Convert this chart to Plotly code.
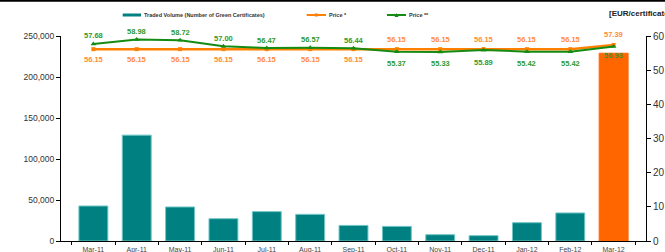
import plotly.graph_objects as go

months = ["Mar-11", "Apr-11", "May-11", "Jun-11", "Jul-11", "Aug-11", "Sep-11",
          "Oct-11", "Nov-11", "Dec-11", "Jan-12", "Feb-12", "Mar-12"]
volume = [42700, 129100, 41500, 27200, 35800, 32500, 19000,
          17800, 7700, 6500, 22300, 34200, 229000]
price1 = [56.15, 56.15, 56.15, 56.15, 56.15, 56.15, 56.15,
          56.15, 56.15, 56.15, 56.15, 56.15, 57.39]
price2 = [57.68, 58.98, 58.72, 57.00, 56.47, 56.57, 56.44,
          55.37, 55.33, 55.89, 55.42, 55.42, 56.93]
side1 = ["below"] * 7 + ["above"] * 6
side2 = ["above"] * 7 + ["below"] * 6

TEAL = "#008080"
ORANGE_BAR = "#FF6600"
ORANGE = "#FF8000"
ORANGE_TXT = "#FF8C3A"
GREEN = "#148C14"
GREEN_TXT = "#2E9A2E"
FONT = "Liberation Sans, Arial, sans-serif"

bar_colors = [TEAL] * (len(months) - 1) + [ORANGE_BAR]
bar_lines = ["#6FC6C6"] * (len(months) - 1) + [ORANGE_BAR]

fig = go.Figure()
fig.add_trace(go.Bar(
    x=months, y=volume, marker=dict(color=bar_colors, line=dict(color=bar_lines, width=1)),
    yaxis="y", showlegend=False, hoverinfo="skip"))
fig.add_trace(go.Scatter(
    x=months, y=price1, yaxis="y2", mode="lines+markers",
    line=dict(color=ORANGE, width=2.5),
    marker=dict(symbol="square", size=4, color=ORANGE),
    showlegend=False, hoverinfo="skip"))
fig.add_trace(go.Scatter(
    x=months, y=price2, yaxis="y2", mode="lines+markers",
    line=dict(color=GREEN, width=2),
    marker=dict(symbol="triangle-up", size=5, color=GREEN),
    showlegend=False, hoverinfo="skip"))

L, R, T, B = 61, 19, 36, 11
W, H = 665, 252
pw, ph = W - L - R, H - T - B

def px(x):
    return (x - L) / pw

def py(y):
    return (H - B - y) / ph

annotations = []
for m, v, s in zip(months, price1, side1):
    annotations.append(dict(
        x=m, y=v, xref="x", yref="y2", text=f"{v:.2f}", showarrow=False,
        yanchor="middle", yshift=10 if s == "above" else -10.5,
        font=dict(family=FONT, size=7.5, color=ORANGE_TXT, weight="bold")))
for i, (m, v, s) in enumerate(zip(months, price2, side2)):
    shift = 8 if s == "above" else (-9 if i == len(months) - 1 else -12)
    annotations.append(dict(
        x=m, y=v, xref="x", yref="y2", text=f"{v:.2f}", showarrow=False,
        yanchor="middle", yshift=shift,
        font=dict(family=FONT, size=7.5, color=GREEN_TXT, weight="bold")))

shapes = [
    dict(type="line", xref="paper", yref="paper", x0=px(0), x1=px(W), y0=py(0.8), y1=py(0.8),
         line=dict(color="black", width=2)),
    dict(type="rect", xref="paper", yref="paper", x0=px(122.7), x1=px(141), y0=py(16.5), y1=py(13.5),
         fillcolor=TEAL, line=dict(width=0)),
    dict(type="line", xref="paper", yref="paper", x0=px(306.7), x1=px(326), y0=py(15), y1=py(15),
         line=dict(color=ORANGE, width=2)),
    dict(type="rect", xref="paper", yref="paper", x0=px(314.8), x1=px(317.8), y0=py(16.5), y1=py(13.5),
         fillcolor=ORANGE, line=dict(width=0)),
    dict(type="line", xref="paper", yref="paper", x0=px(387), x1=px(406), y0=py(15), y1=py(15),
         line=dict(color=GREEN, width=2)),
    dict(type="path", xref="paper", yref="paper",
         path=f"M {px(394.5)},{py(17)} L {px(398.5)},{py(17)} L {px(396.5)},{py(13)} Z",
         fillcolor=GREEN, line=dict(width=0)),
]

annotations += [
    dict(xref="paper", yref="paper", x=px(142), y=py(15), xanchor="left", yanchor="middle",
         text="Traded Volume (Number of Green Certificates)", showarrow=False,
         font=dict(family=FONT, size=5.5, color="#333333", weight="bold")),
    dict(xref="paper", yref="paper", x=px(327), y=py(15), xanchor="left", yanchor="middle",
         text="Price *", showarrow=False,
         font=dict(family=FONT, size=5.5, color="#333333", weight="bold")),
    dict(xref="paper", yref="paper", x=px(407), y=py(15), xanchor="left", yanchor="middle",
         text="Price **", showarrow=False,
         font=dict(family=FONT, size=5.5, color="#333333", weight="bold")),
    dict(xref="paper", yref="paper", x=px(607), y=py(14), xanchor="left", yanchor="middle",
         text="[EUR/certificate]", showarrow=False,
         font=dict(family=FONT, size=8, color="#222222", weight="bold")),
]

fig.update_layout(
    width=W, height=H,
    margin=dict(l=L, r=R, t=T, b=B, pad=0),
    paper_bgcolor="white", plot_bgcolor="white",
    bargap=0.333,
    font=dict(family=FONT, color="#333333"),
    xaxis=dict(type="category", showline=True, linecolor="black", linewidth=1,
               ticks="outside", tickson="boundaries", ticklen=3, tickcolor="black",
               showgrid=False, zeroline=False, automargin=False, ticklabelstandoff=2,
               tickfont=dict(family=FONT, size=7, color="#444444")),
    yaxis=dict(range=[0, 250000], tickvals=[0, 50000, 100000, 150000, 200000, 250000],
               ticktext=["0", "50,000", "100,000", "150,000", "200,000", "250,000"],
               showline=True, linecolor="black", linewidth=1, ticks="outside", ticklen=4,
               tickcolor="black", showgrid=False, zeroline=False, automargin=False,
               tickfont=dict(family=FONT, size=8.5, color="#333333")),
    yaxis2=dict(range=[0, 60], tickvals=[0, 10, 20, 30, 40, 50, 60], overlaying="y", side="right",
                showline=True, linecolor="black", linewidth=1, ticks="outside", ticklen=4,
                tickcolor="black", showgrid=False, zeroline=False, automargin=False,
                tickfont=dict(family=FONT, size=10, color="#333333")),
    shapes=shapes, annotations=annotations,
)

fig.write_html(
    "out.html",
    config={"displayModeBar": False},
    post_script="document.body.style.margin='0';document.body.style.overflow='hidden';",
)
